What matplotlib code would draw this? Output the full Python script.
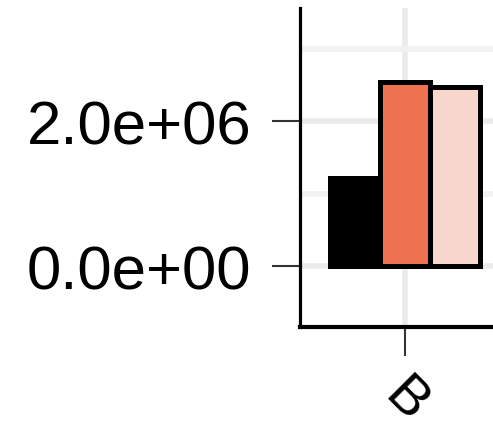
import matplotlib; matplotlib.use('Agg')
import matplotlib.pyplot as plt
import numpy as np

categories = ['B']
series = ['s1', 's2', 's3']
values = [[1.21e6], [2.545e6], [2.47e6]]
colors = ['#000000', '#EE724F', '#F8D6CC']

plt.rcParams['font.family'] = ['Liberation Sans', 'DejaVu Sans']
fig = plt.figure(figsize=(4.93, 4.35), dpi=100)
ax = fig.add_axes([300/493, 107/435, 210/493, 319/435])

x = np.arange(len(categories))
w = 0.3
for i, (s, v, c) in enumerate(zip(series, values, colors)):
    ax.bar(x + (i - 1)*w, v, width=w, color=c, edgecolor='black', linewidth=3.6, zorder=3)

ax.set_xlim(-0.63, 0.63)
ax.set_ylim(-0.841e6, 3.559e6)
ax.set_yticks([0, 2e6])
ax.set_yticklabels(['0.0e+00', '2.0e+06'])
ax.set_yticks([1e6, 3e6], minor=True)
ax.set_xticks(x)
ax.set_xticklabels(categories, rotation=-45, ha='center', va='top', fontsize=40)
ax.tick_params(axis='y', which='major', labelsize=44.5, length=20, width=1.5, color='#333333', pad=15)
ax.tick_params(axis='y', which='minor', length=0)
ax.tick_params(axis='x', length=21, width=1.5, color='#333333', pad=9)
ax.grid(which='major', color='#EBEBEB', lw=4, zorder=0)
ax.grid(which='minor', axis='y', color='#F2F2F2', lw=4, zorder=0)
for sp in ['top', 'right']:
    ax.spines[sp].set_visible(False)
ax.spines['left'].set_linewidth(2.3)
ax.spines['bottom'].set_linewidth(3)
ax.set_axisbelow(True)

fig.savefig('out.png', dpi=100)
